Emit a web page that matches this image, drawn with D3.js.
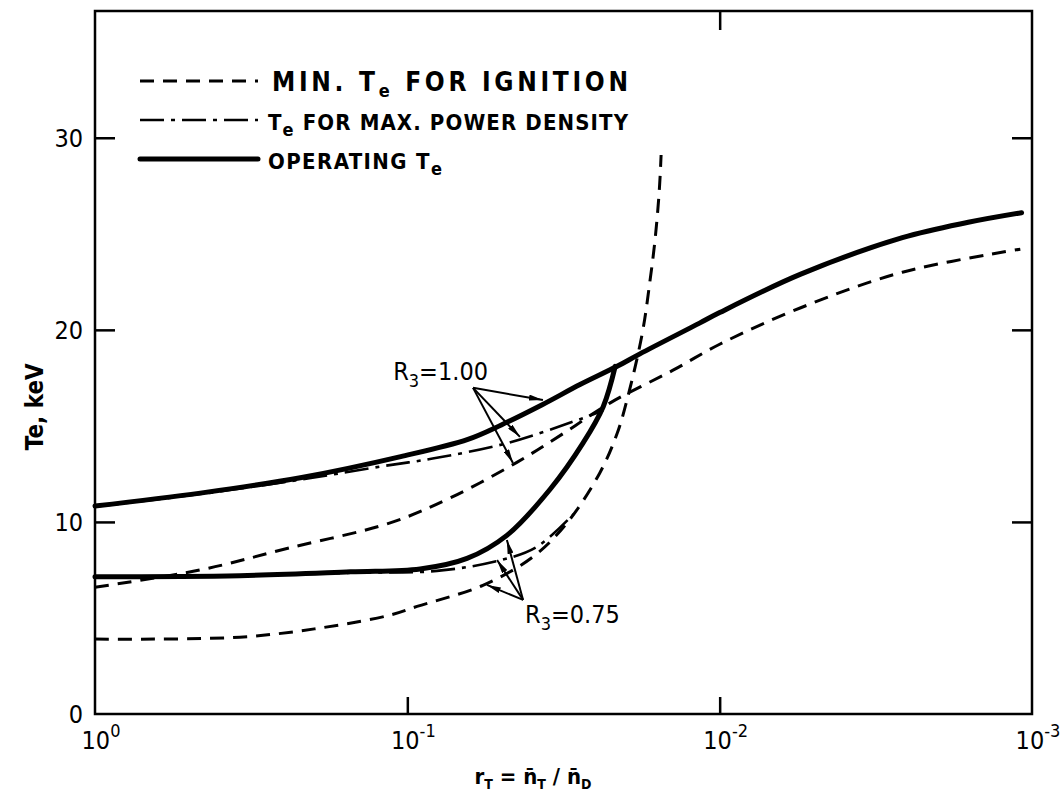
<!DOCTYPE html>
<html>
<head>
<meta charset="utf-8">
<script src="https://cdn.jsdelivr.net/npm/d3@7"></script>
<style>
  body { margin: 0; background: #fff; }
  svg { display: block; }
</style>
</head>
<body>
<div id="chart"></div>
<script>
// values: r_T (x, log) and Te in keV (y)
const opR100_r  = [1, 0.46, 0.22, 0.105, 0.064, 0.05, 0.037, 0.028, 0.0213, 0.018, 0.0116, 0.01, 0.0055, 0.0026, 0.0016, 0.00108];
const opR100_T  = [10.83, 11.5, 12.3, 13.4, 14.3, 15.05, 16.1, 17.15, 18.1, 18.75, 20.35, 20.9, 22.9, 24.8, 25.6, 26.1];
const mpdR100_r = [1, 0.46, 0.22, 0.12, 0.083, 0.048, 0.028, 0.0236];
const mpdR100_T = [10.8, 11.45, 12.2, 12.9, 13.3, 14.1, 15.35, 15.8];
const ignR100_r = [1, 0.46, 0.238, 0.1135, 0.0729, 0.0446, 0.0317, 0.0224, 0.0141, 0.01, 0.0055, 0.0026, 0.00109];
const ignR100_T = [6.6, 7.5, 8.65, 9.95, 11.25, 13.1, 14.6, 16.2, 17.9, 19.25, 21.15, 23.0, 24.2];
const opR075_r  = [1, 0.344, 0.152, 0.091, 0.0644, 0.048, 0.0349, 0.0274, 0.0236, 0.0216];
const opR075_T  = [7.15, 7.2, 7.4, 7.55, 8.1, 9.3, 11.7, 14.1, 16.0, 18.1];
const mpdR075_r = [1, 0.344, 0.152, 0.0804, 0.0505, 0.0385, 0.0294];
const mpdR075_T = [7.1, 7.2, 7.35, 7.45, 8.0, 8.7, 10.4];
const ignR075_r = [1, 0.344, 0.186, 0.1135, 0.0931, 0.0573, 0.0395, 0.0308, 0.0242, 0.0213, 0.0198, 0.0177, 0.0167, 0.0161, 0.0156, 0.0154];
const ignR075_T = [3.9, 4.0, 4.5, 5.15, 5.6, 6.7, 8.2, 9.95, 12.55, 14.6, 16.35, 19.8, 22.6, 24.7, 27.3, 29.1];

const xTickVals = [1, 0.1, 0.01, 0.001];
const xTickExp  = ["0", "-1", "-2", "-3"];
const yTickVals = [0, 10, 20, 30];
const legendLabels = ["MIN. T_e FOR IGNITION", "T_e FOR MAX. POWER DENSITY", "OPERATING T_e"];
const legendStyles = ["dash", "dashdot", "solid"];

// annotation anchors, in data units [r, Te]
const ann100_label = [0.111, 17.4];
const ann100_from  = [0.0616, 16.98];
const ann100_to    = [[0.0368, 16.35], [0.0436, 14.43], [0.0459, 13.07]];
const ann075_label = [0.042, 4.74];
const ann075_from  = [0.0426, 5.94];
const ann075_to    = [[0.048, 9.06], [0.0516, 8.02], [0.0556, 6.72]];

const W = 1060, H = 797;
const margin = { top: 11, right: 28, bottom: 83, left: 95 };
const width  = W - margin.left - margin.right;
const height = H - margin.top - margin.bottom;

const FONT = "'DejaVu Sans Condensed', 'Liberation Sans Narrow', 'DejaVu Sans', sans-serif";

const svg = d3.select("#chart").append("svg")
  .attr("width", W).attr("height", H)
  .style("font-family", FONT);

const g = svg.append("g")
  .attr("transform", `translate(${margin.left},${margin.top})`);

const x = d3.scaleLog().domain([1, 0.001]).range([0, width]);
const y = d3.scaleLinear().domain([0, 36.6]).range([height, 0]);

const styles = {
  solid:   { w: 5,   dash: null,       cap: "round" },
  dash:    { w: 3,   dash: "14,9",     cap: "butt" },
  dashdot: { w: 2.6, dash: "24,7,4,7", cap: "butt" }
};

// frame + inward ticks
g.append("rect")
  .attr("width", width).attr("height", height)
  .attr("fill", "none").attr("stroke", "#000").attr("stroke-width", 2.5);

function ticks(axis, transform) {
  const a = g.append("g").attr("transform", transform).call(axis);
  a.select(".domain").remove();
  a.selectAll("line").attr("stroke", "#000").attr("stroke-width", 2.5);
  a.selectAll("text").remove();
}
ticks(d3.axisLeft(y).tickValues(yTickVals.slice(1)).tickSize(-20), "translate(0,0)");
ticks(d3.axisRight(y).tickValues(yTickVals.slice(1)).tickSize(-20), `translate(${width},0)`);
ticks(d3.axisBottom(x).tickValues([0.1, 0.01]).tickSize(-17), `translate(0,${height})`);
ticks(d3.axisTop(x).tickValues([0.01]).tickSize(-19), "translate(0,0)");

// tick labels
g.selectAll(".ylab").data(yTickVals).enter().append("text")
  .attr("x", -12).attr("y", d => y(d)).attr("dy", "0.36em")
  .attr("text-anchor", "end")
  .style("font-size", "25px")
  .text(d => d);

const xl = g.selectAll(".xlab").data(xTickVals).enter().append("text")
  .attr("x", d => x(d) + 6).attr("y", height + 35)
  .attr("text-anchor", "middle")
  .style("font-size", "25px");
xl.append("tspan").text("10");
xl.append("tspan").attr("dy", -12).style("font-size", "18px").text((d, i) => xTickExp[i]);

// axis titles
const xt = svg.append("text")
  .attr("x", 533).attr("y", H - 13)
  .attr("text-anchor", "middle")
  .style("font-size", "22px").style("font-weight", "bold");
xt.append("tspan").text("r");
xt.append("tspan").attr("dy", 5).style("font-size", "14px").text("T");
xt.append("tspan").attr("dy", -5).text(" = n\u0304");
xt.append("tspan").attr("dy", 5).style("font-size", "14px").text("T");
xt.append("tspan").attr("dy", -5).text(" / n\u0304");
xt.append("tspan").attr("dy", 5).style("font-size", "14px").text("D");

svg.append("text")
  .attr("transform", `translate(43,${margin.top + y(16)}) rotate(-90)`)
  .attr("text-anchor", "middle")
  .style("font-size", "24px").style("font-weight", "bold")
  .text("Te, keV");

// curves
const series = [
  { r: ignR075_r, T: ignR075_T, s: "dash" },
  { r: ignR100_r, T: ignR100_T, s: "dash" },
  { r: mpdR075_r, T: mpdR075_T, s: "dashdot" },
  { r: mpdR100_r, T: mpdR100_T, s: "dashdot" },
  { r: opR075_r,  T: opR075_T,  s: "solid" },
  { r: opR100_r,  T: opR100_T,  s: "solid" }
];

const line = d3.line()
  .x(d => x(d[0]))
  .y(d => y(d[1]))
  .curve(d3.curveCatmullRom.alpha(0.5));

series.forEach(sr => {
  const st = styles[sr.s];
  g.append("path")
    .datum(sr.r.map((r, i) => [r, sr.T[i]]))
    .attr("fill", "none")
    .attr("stroke", "#000")
    .attr("stroke-width", st.w)
    .attr("stroke-dasharray", st.dash)
    .attr("stroke-linecap", st.cap)
    .attr("d", line);
});

// legend
const legendX = [272, 268, 268];
const legendLen = [356, 360, 174];
const legendSize = [26, 22, 22];
const legend = svg.append("g");
legendLabels.forEach((lab, i) => {
  const st = styles[legendStyles[i]];
  const ly = 81 + i * 39;
  legend.append("line")
    .attr("x1", 140).attr("x2", 258).attr("y1", ly).attr("y2", ly)
    .attr("stroke", "#000").attr("stroke-width", st.w)
    .attr("stroke-dasharray", st.dash).attr("stroke-linecap", st.cap);
  const t = legend.append("text")
    .attr("x", legendX[i]).attr("y", ly + 10)
    .attr("textLength", legendLen[i])
    .attr("lengthAdjust", "spacing")
    .style("font-size", legendSize[i] + "px").style("font-weight", "bold");
  let shift = 0;
  lab.split(/(_e)/).forEach(part => {
    if (part === "_e") {
      t.append("tspan").attr("dy", 6).style("font-size", "18px").text("e");
      shift = -6;
    } else if (part) {
      t.append("tspan").attr("dy", shift).text(part);
      shift = 0;
    }
  });
});

// annotations
const defs = svg.append("defs");
defs.append("marker")
  .attr("id", "arr").attr("viewBox", "0 0 14 6")
  .attr("refX", 14).attr("refY", 3)
  .attr("markerWidth", 14).attr("markerHeight", 6)
  .attr("markerUnits", "userSpaceOnUse").attr("orient", "auto")
  .append("path").attr("d", "M0,0L14,3L0,6Z").attr("fill", "#000");

function annotate(label, from, targets, value) {
  targets.forEach(tg => {
    g.append("line")
      .attr("x1", x(from[0])).attr("y1", y(from[1]))
      .attr("x2", x(tg[0])).attr("y2", y(tg[1]))
      .attr("stroke", "#000").attr("stroke-width", 2)
      .attr("marker-end", "url(#arr)");
  });
  const t = g.append("text")
    .attr("x", x(label[0])).attr("y", y(label[1]))
    .style("font-size", "25px");
  t.append("tspan").text("R");
  t.append("tspan").attr("dy", 7).style("font-size", "18px").text("3");
  t.append("tspan").attr("dy", -7).text("=" + value);
}
annotate(ann100_label, ann100_from, ann100_to, "1.00");
annotate(ann075_label, ann075_from, ann075_to, "0.75");
</script>
</body>
</html>
